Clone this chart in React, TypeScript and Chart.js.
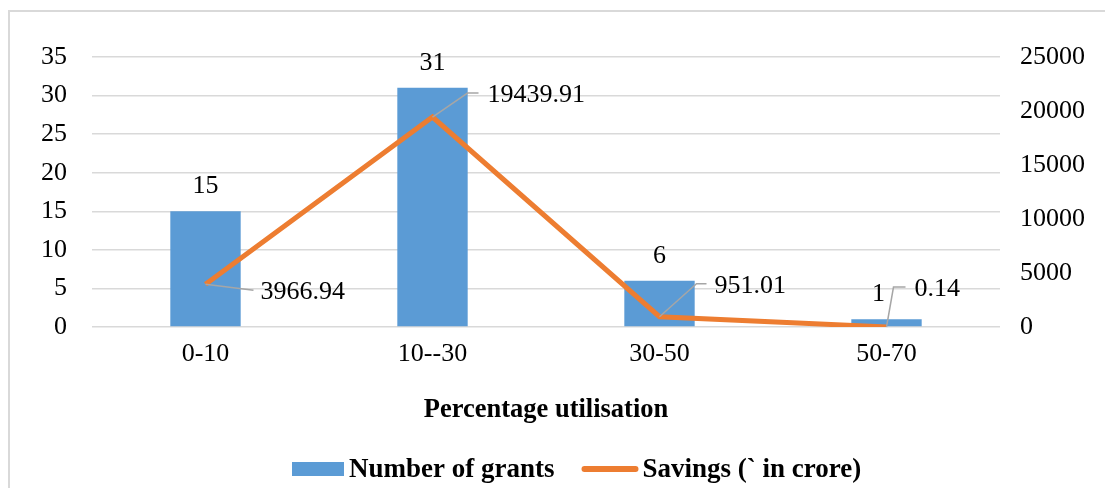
import React, { useEffect, useRef } from 'react';
import { Chart, registerables } from 'chart.js';

Chart.register(...registerables);

const categories = ['0-10', '10--30', '30-50', '50-70'];
const grantCounts = [15, 31, 6, 1];
const savingsValues = [3966.94, 19439.91, 951.01, 0.14];
const savingsLabels = ['3966.94', '19439.91', '951.01', '0.14'];
const seriesNames = ['Number of grants', 'Savings (` in crore)'];
const axisTitle = 'Percentage utilisation';
const leftAxis = { min: 0, max: 35, step: 5 };
const rightAxis = { min: 0, max: 25000, step: 5000 };

const FONT = "'Liberation Serif', 'Times New Roman', serif";
const BAR_COLOR = '#5B9BD5';
const LINE_COLOR = '#ED7D31';
const GRID_COLOR = '#D9D9D9';
const LEADER_COLOR = '#A6A6A6';
const TEXT_COLOR = '#000000';

// placement styles for data labels
const barLabelShift = [0, 0, 0, -8];
const leaderStyle = [
  { ex: 48, ey: 6, hx: 48, tx: 55 },
  { ex: 35, ey: -24, hx: 46, tx: 55 },
  { ex: 37, ey: -33, hx: 47, tx: 55 },
  { ex: 7, ey: -40, hx: 19, tx: 28 },
];

const labelPlugin = {
  id: 'labelPlugin',
  afterDatasetsDraw(chart: any) {
    const ctx = chart.ctx;
    ctx.save();
    ctx.font = `26px ${FONT}`;
    ctx.fillStyle = TEXT_COLOR;
    const barMeta = chart.getDatasetMeta(0);
    barMeta.data.forEach((el: any, i: number) => {
      ctx.textAlign = 'center';
      ctx.textBaseline = 'middle';
      ctx.fillText(String(grantCounts[i]), el.x + barLabelShift[i], el.y - 25);
    });
    const lineMeta = chart.getDatasetMeta(1);
    lineMeta.data.forEach((el: any, i: number) => {
      const s = leaderStyle[i];
      ctx.strokeStyle = LEADER_COLOR;
      ctx.lineWidth = 1.5;
      ctx.beginPath();
      ctx.moveTo(el.x, el.y);
      ctx.lineTo(el.x + s.ex, el.y + s.ey);
      ctx.lineTo(el.x + s.hx, el.y + s.ey);
      ctx.stroke();
      ctx.textAlign = 'left';
      ctx.textBaseline = 'middle';
      ctx.fillStyle = TEXT_COLOR;
      ctx.fillText(savingsLabels[i], el.x + s.tx, el.y + s.ey + 2);
    });
    ctx.restore();
  },
  afterDraw(chart: any) {
    // legend
    const ctx = chart.ctx;
    const area = chart.chartArea;
    ctx.save();
    ctx.font = `bold 27px ${FONT}`;
    ctx.textBaseline = 'middle';
    ctx.textAlign = 'left';
    const y = chart.height - 19;
    let x = (area.left + area.right) / 2 - 254;
    ctx.fillStyle = BAR_COLOR;
    ctx.fillRect(x, y - 7, 52, 14);
    x += 57;
    ctx.fillStyle = TEXT_COLOR;
    ctx.fillText(seriesNames[0], x, y + 1);
    x += ctx.measureText(seriesNames[0]).width + 30;
    ctx.strokeStyle = LINE_COLOR;
    ctx.lineWidth = 6;
    ctx.lineCap = 'round';
    ctx.beginPath();
    ctx.moveTo(x, y);
    ctx.lineTo(x + 51, y);
    ctx.stroke();
    x += 58;
    ctx.fillText(seriesNames[1], x, y + 1);
    ctx.restore();
  },
};

export default function App() {
  const canvasRef = useRef<HTMLCanvasElement | null>(null);

  useEffect(() => {
    if (!canvasRef.current) return;
    const chart = new Chart(canvasRef.current, {
      type: 'bar',
      data: {
        labels: categories,
        datasets: [
          {
            type: 'bar',
            label: seriesNames[0],
            data: grantCounts,
            backgroundColor: BAR_COLOR,
            yAxisID: 'y',
            barPercentage: 0.31,
            categoryPercentage: 1,
            order: 2,
          },
          {
            type: 'line',
            label: seriesNames[1],
            data: savingsValues,
            borderColor: LINE_COLOR,
            backgroundColor: LINE_COLOR,
            borderWidth: 5,
            pointRadius: 0,
            tension: 0,
            yAxisID: 'y1',
            order: 1,
          },
        ],
      } as any,
      options: {
        animation: false,
        responsive: false,
        maintainAspectRatio: false,
        layout: { padding: { top: 45, left: 0, right: 0, bottom: 0 } },
        plugins: {
          tooltip: { enabled: false },
          legend: { display: false },
        },
        scales: {
          x: {
            grid: { display: false },
            border: { display: false },
            ticks: { color: TEXT_COLOR, font: { family: FONT, size: 26 }, padding: 4 },
            title: {
              display: true,
              text: axisTitle,
              color: TEXT_COLOR,
              font: { family: FONT, size: 26.5, weight: 'bold' },
              padding: { top: 0, bottom: 62 },
            },
            afterFit: (s: any) => { s.height = 161; },
          },
          y: {
            position: 'left',
            min: leftAxis.min,
            max: leftAxis.max,
            grid: { color: GRID_COLOR, lineWidth: 1.5, drawTicks: false },
            border: { display: false },
            ticks: {
              stepSize: leftAxis.step,
              padding: 25,
              color: TEXT_COLOR,
              font: { family: FONT, size: 26 },
            },
            afterFit: (s: any) => { s.width = 82; },
          },
          y1: {
            position: 'right',
            min: rightAxis.min,
            max: rightAxis.max,
            grid: { display: false, drawTicks: false },
            border: { display: false },
            ticks: {
              stepSize: rightAxis.step,
              padding: 20,
              color: TEXT_COLOR,
              font: { family: FONT, size: 26 },
              callback: (v: any) => String(v),
            },
            afterFit: (s: any) => { s.width = 113; },
          },
        },
      } as any,
      plugins: [labelPlugin],
    });
    return () => chart.destroy();
  }, []);

  return (
    <div
      style={{
        marginTop: 2,
        width: 1105,
        height: 478,
        borderTop: `2px solid ${GRID_COLOR}`,
        borderLeft: `2px solid ${GRID_COLOR}`,
        boxSizing: 'border-box',
        background: '#fff',
      }}
    >
      <canvas ref={canvasRef} width={1103} height={476} style={{ display: 'block' }} />
    </div>
  );
}
